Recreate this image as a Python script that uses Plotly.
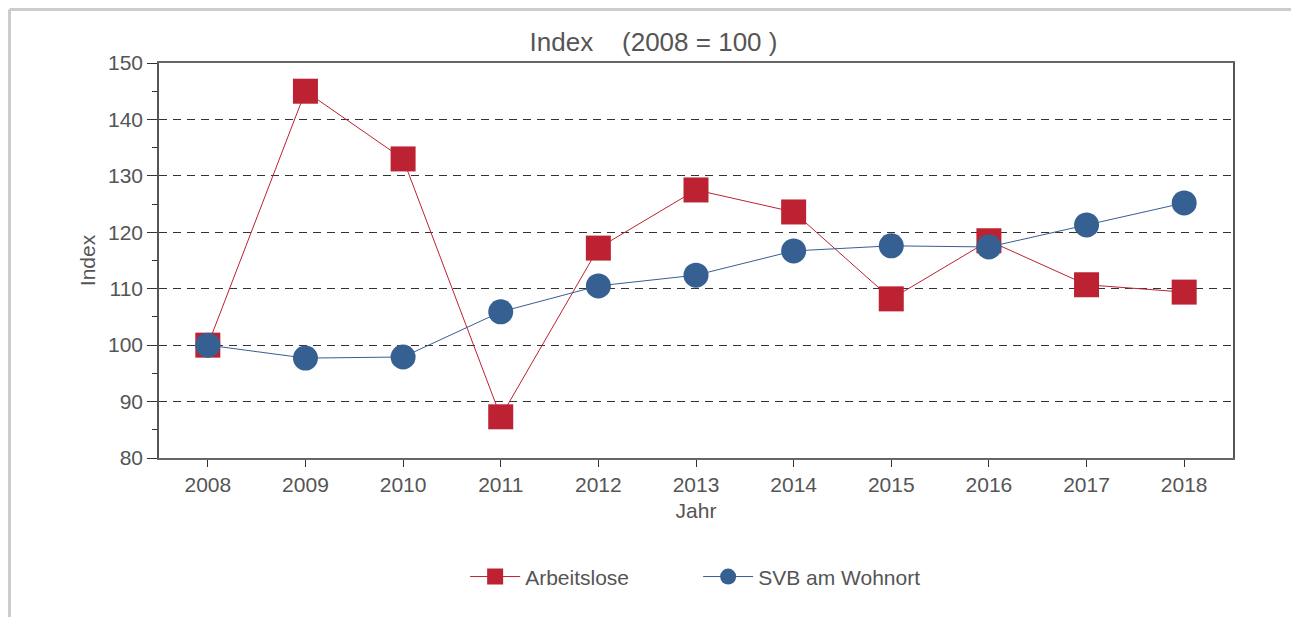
import plotly.graph_objects as go

# Daten
jahre = ['2008', '2009', '2010', '2011', '2012', '2013', '2014', '2015', '2016', '2017', '2018']
arbeitslose = [100, 145.0, 133.0, 87.3, 117.2, 127.5, 123.6, 108.2, 118.5, 110.7, 109.4]
svb_wohnort = [100, 97.7, 97.9, 105.9, 110.5, 112.4, 116.7, 117.6, 117.4, 121.3, 125.2]

rot = '#BC2231'
blau = '#366092'
grau = '#555555'

fig = go.Figure()

fig.add_trace(go.Scatter(
    x=jahre, y=arbeitslose, name='Arbeitslose', mode='lines+markers',
    line=dict(color=rot, width=1),
    marker=dict(symbol='square', size=25, color=rot)))

fig.add_trace(go.Scatter(
    x=jahre, y=svb_wohnort, name='SVB am Wohnort', mode='lines+markers',
    line=dict(color=blau, width=1),
    marker=dict(symbol='circle', size=25, color=blau)))

# die Seite hat 8px Rand, daher Breite/Höhe und Ränder angepasst
fig.update_layout(
    width=1291, height=609,
    margin=dict(l=151, r=66, t=55, b=159),
    paper_bgcolor='white', plot_bgcolor='white',
    font=dict(family='Liberation Sans, Arial', size=21, color=grau),
    title=dict(text='Index\u00a0\u00a0\u00a0\u00a0(2008 = 100 )', x=0.5, xanchor='center',
               y=0.944, yanchor='middle', font=dict(size=26, color=grau)),
    showlegend=True,
    legend=dict(orientation='h', x=0.502, xanchor='center', y=-0.301, yanchor='middle',
                font=dict(size=21, color=grau), itemwidth=50, entrywidth=168),
    xaxis=dict(
        type='category', range=[-0.5, 10.5],
        title=dict(text='Jahr', font=dict(size=21, color=grau), standoff=8),
        showline=True, linecolor='#666', linewidth=2, mirror=True,
        ticks='outside', ticklen=7, tickcolor='#333',
        showgrid=False, zeroline=False),
    yaxis=dict(
        range=[80, 150], dtick=10,
        title=dict(text='Index', font=dict(size=21, color=grau), standoff=7),
        showline=True, linecolor='#555', linewidth=1.5, mirror=True,
        ticks='outside', ticklen=10, tickcolor='#333',
        minor=dict(dtick=5, ticks='outside', ticklen=5, tickcolor='#333', showgrid=False),
        showgrid=True, gridcolor='#333', gridwidth=1, griddash='8px,6px',
        zeroline=False),
    yaxis2=dict(
        range=[80, 150], dtick=10, overlaying='y', side='left',
        showticklabels=False, showgrid=False, zeroline=False,
        ticks='inside', ticklen=9, tickcolor='#333',
        minor=dict(dtick=5, ticks='inside', ticklen=4, tickcolor='#333')),
)

# Rahmen um die Grafik
fig.add_shape(type='line', xref='paper', yref='paper',
              x0=-0.1392, x1=1.1, y0=1.1354, y1=1.1354,
              line=dict(color='#cccccc', width=3))
fig.add_shape(type='line', xref='paper', yref='paper',
              x0=-0.1392, x1=-0.1392, y0=1.1354, y1=-0.5,
              line=dict(color='#cccccc', width=3))

fig.write_html('out.html')
